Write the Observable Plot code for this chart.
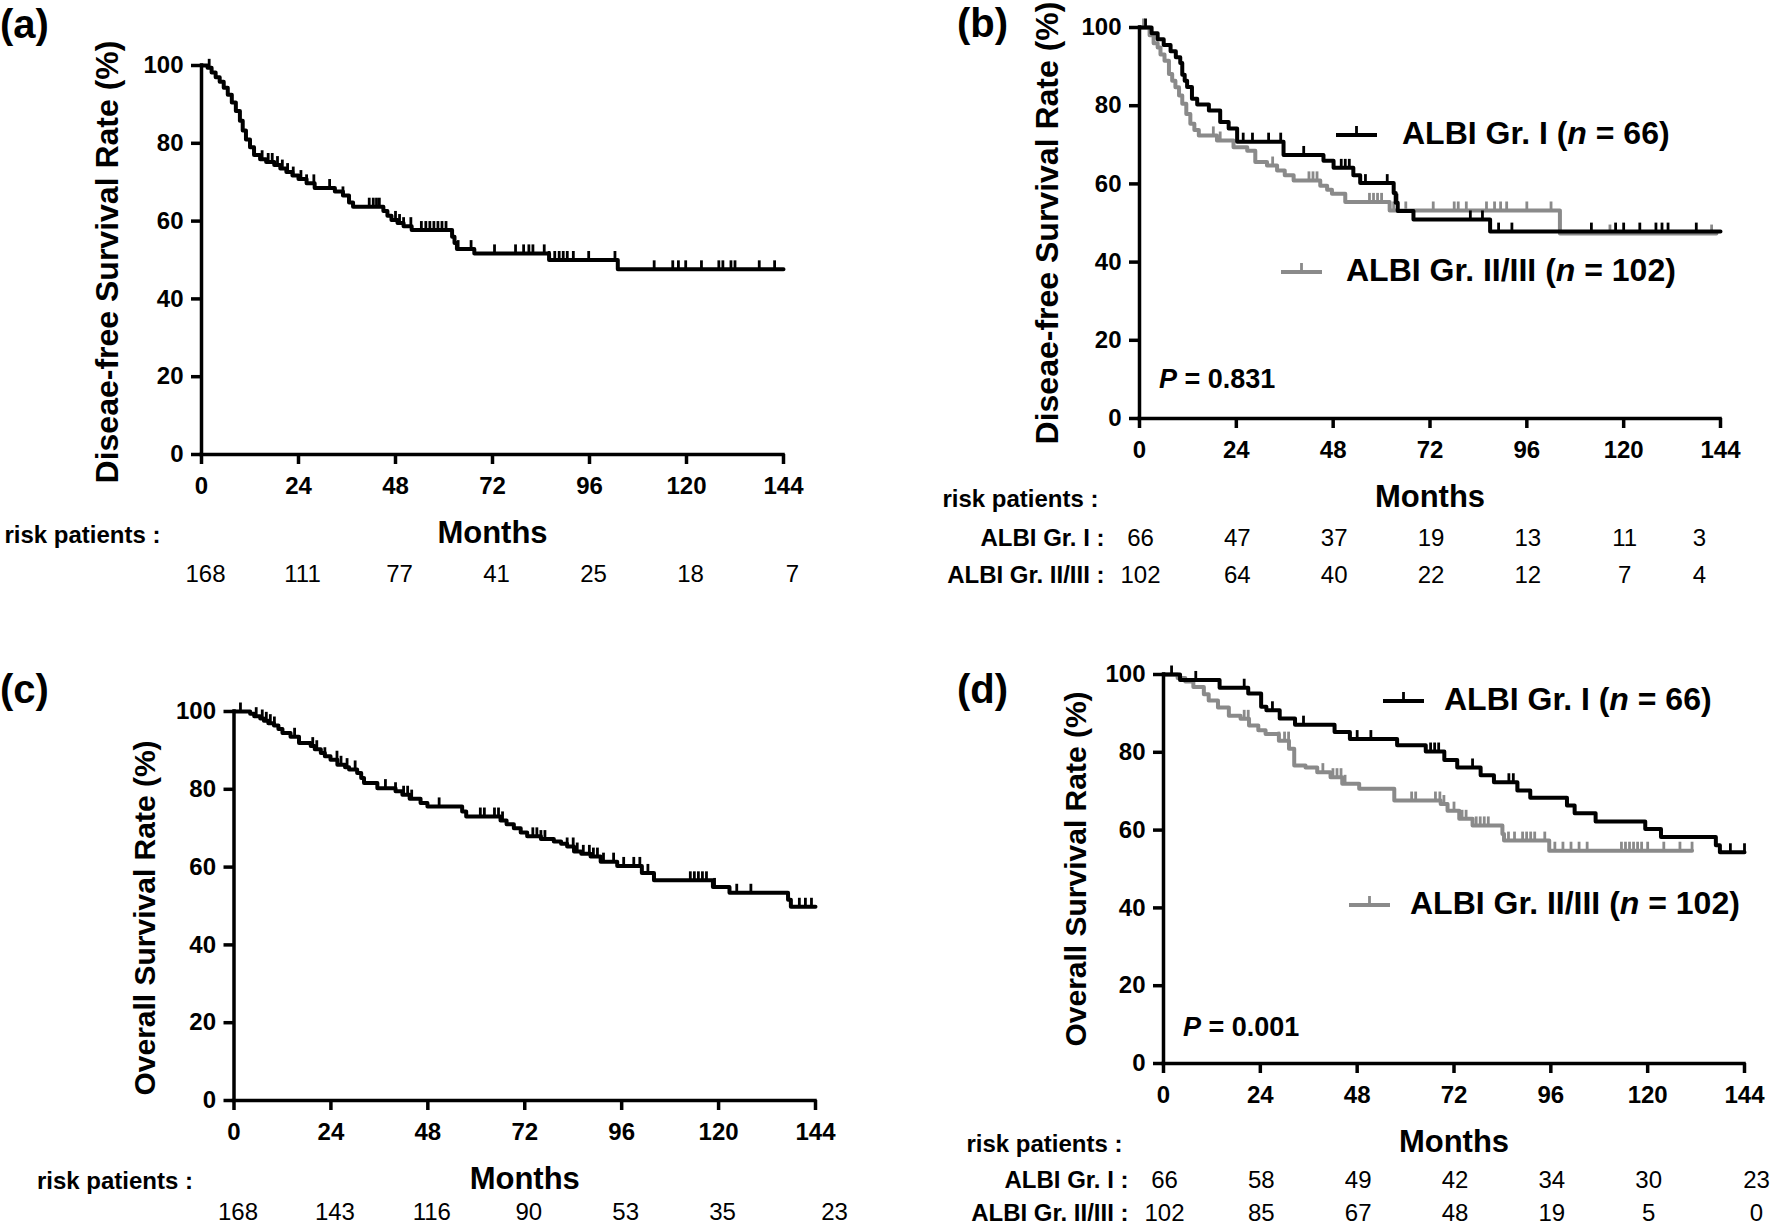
<!DOCTYPE html>
<html><head><meta charset="utf-8">
<script src="https://cdn.jsdelivr.net/npm/d3@7"></script>
<script src="https://cdn.jsdelivr.net/npm/@observablehq/plot@0.6"></script>
<style>
body{margin:0;background:#fff;}
#root{position:relative;width:1770px;height:1227px;overflow:hidden;background:#fff;font-family:"Liberation Sans",Arial,Helvetica,sans-serif;}
#root > svg{position:absolute;left:0;top:0;}
.lbl{position:absolute;font-weight:bold;white-space:nowrap;line-height:1;color:#000;}
.leg{position:absolute;display:flex;align-items:center;font-weight:bold;font-size:32px;white-space:nowrap;line-height:32px;height:32px;}
</style></head><body><div id="root"></div>
<script>
// ---------- shared axis values ----------
const xTicks = [0, 24, 48, 72, 96, 120, 144];
const yTicks = [0, 20, 40, 60, 80, 100];
const riskMonths = [0, 24, 48, 72, 96, 120, 144];

// ---------- (a) disease-free survival, all patients ----------
const aTimes = [0,1.5,2.5,3.5,4.5,5.5,6.5,7.5,8.5,9.5,10.2,11,12,13,14.5,16,18,19.5,21,22.5,24,26,28,33,35,36.5,37.5,45,46,47,48.5,50,52,62,62.6,63.2,67.5,86,103];
const aSurv  = [100,99.4,98.2,97,95.8,94.3,92.5,90.5,88.3,85.8,83.3,81,79,77,75.9,75.2,74.4,73.5,72.6,71.7,70.8,69.7,68.5,67.6,66.6,64.8,63.7,62.6,61.4,60.3,59.5,58.7,57.7,56,54.4,52.8,51.7,50,47.6];
const aEnd = 144;
const aCensor = [1.9,15,16.5,17.5,18.8,20,21.3,22.7,24.6,26,27.8,31.7,35,41.5,42.5,43.3,44,48,49,50,51.8,54.4,55.5,56.5,57.5,58.5,59.5,60.5,63.5,66.7,72.5,77.7,79.7,81,82,84.8,86,87.4,88.5,89.5,90.5,92,95.8,102.3,112,116.6,118,119.8,123.7,128,129,131,132,138,141.8];
const riskA = [168,111,77,41,25,18,7];

// ---------- (b) disease-free survival by ALBI grade ----------
const bITimes = [0,3,4.5,6,7.7,9,10.1,10.6,11.2,11.8,13,14.3,17.2,20,22.1,24.2,35.7,45.6,48.1,53,54.7,63,63.5,64,67.9,86.9];
const bISurv  = [100,98.5,97,95.5,93.9,92.4,90.9,87.9,86.4,84.8,81.8,80.3,78.8,75.8,74.2,70.8,67.4,65.9,64.1,62.2,60.2,57.7,55.2,53.1,50.9,47.8];
const bIEnd = 144;
const bICensor = [1.5,25.7,28,32,35,40.7,50,51,52,56,61.4,63.8,82,85,89,92.3,112,118,120,124,128,129.5,131,138];
const bGTimes = [0,2.5,3.5,4.5,5.2,6.2,7.3,8.1,8.9,9.8,10.6,11.6,12.6,13.6,14.7,19.2,23.3,26.7,28.7,31.6,34.1,36,38.2,44.8,46.5,47.7,51,62,104.2];
const bGSurv  = [100,98,96,94.9,93.1,91.5,88.1,86.4,84.7,82.6,80.5,77.9,75.4,73.8,72.4,71.1,69.4,68.5,65.6,64.7,63.4,62.2,60.9,59.5,58.5,57.5,55.4,53.2,47.3];
const bGEnd = 143;
const bGCensor = [1,18.3,20,33,42,43,44,57,58,59,60,63,66,72.8,78,79,81,86,88,89.5,91,96,102,116.6,141.8];
const riskB1 = [66,47,37,19,13,11,3];
const riskB2 = [102,64,40,22,12,7,4];

// ---------- (c) overall survival, all patients ----------
const cTimes = [0,4,5,6.5,7.4,8.5,9.9,11,12,14,16.1,19,20,21.5,22.5,23.9,25.6,27.5,28.5,30.5,31.5,32.2,35.5,40,41.7,43.5,46.2,47.9,56.5,57.5,66,67.5,69.3,71,72.6,76,79.2,81,82.5,84.2,86,88.3,90.8,94.9,101,104,118.6,122.7,137.2,137.9];
const cSurv  = [100,99.4,98.8,98.2,97.6,97,96.4,95.5,94.5,93.5,91.9,91.1,90.3,89.3,88.5,87.6,86.3,85.7,85.1,84.2,82.9,81.6,80.3,79.5,78.6,77.6,76.5,75.6,74.3,73,72,71,70,68.9,67.9,67.2,66.6,66,65.3,64,63.4,62.7,61.4,60.3,58.5,56.6,54.9,53.4,51.6,49.8];
const cEnd = 144;
const cCensor = [1.6,5.5,7,8,9,10,15,19.5,20.5,22.5,25.5,26.5,28,30,37.5,40,42,43,44,50.8,61,62,64.5,65.5,66.5,74,75,76,77,82.5,84,85,86.5,88,89,90,91.5,94,96.5,99,100.5,102.5,113,114,115,116,117,119,124.5,128,140,141.5,143];
const riskC = [168,143,116,90,53,35,23];

// ---------- (d) overall survival by ALBI grade ----------
const dITimes = [0,4.1,13.9,21,24.2,25.5,28.8,32.6,42.4,46.2,57.9,65,69.6,72.8,78.6,81.9,87.7,90.9,100,101.9,107.1,119.4,123.3,136.9,137.9];
const dISurv  = [100,98.6,96.6,95.1,91.7,90.8,88.7,87.1,85.2,83.4,81.8,80.2,78,76.1,74.1,72.3,70.2,68.3,66.3,64.3,62.2,60.3,58.2,56.1,54.3];
const dIEnd = 144;
const dICensor = [2,8,20,27,34.7,48,51.4,66.2,67.2,68.2,76.6,85.6,86.7,87.8,140.5,144];
const dGTimes = [0,3.5,5.4,7.4,10,11.2,13.5,16.2,19.1,21.2,23.5,25.3,28.6,31.1,32.4,35.2,38.1,41.4,44.3,48.5,57.2,68.7,70.4,73.3,76.6,84,84.4,95.6];
const dGSurv  = [100,99.1,98.2,96.8,94.9,93.3,91.5,89.4,88.6,86.9,85.7,84.7,83,80.9,76.6,76.1,74.9,73.6,71.9,70.6,67.6,66.7,65,62.9,61.2,59,57.3,54.7];
const dGEnd = 131;
const dGCensor = [20,21,28.6,30,31,39.5,42,43,44,45,61.5,62.5,67.4,68.5,69.5,72,74,75,77.5,78.5,79.5,80.5,85.5,87,89,90,91,92,94.5,97,99,101,103,105,113.5,114.5,115.5,116.5,117.5,118.5,120,124,128,131];
const riskD1 = [66,58,49,42,34,30,23];
const riskD2 = [102,85,67,48,19,5,0];

// ---------- helpers ----------
const FONT = '"Liberation Sans", Arial, Helvetica, sans-serif';
const BLACK = "#000";
const GREY = "#8a8a8a";
const W = 1770, H = 1227;

function stepPoints(T, S, end) {
  const pts = T.map((t, i) => ({t, s: S[i]}));
  pts.push({t: end, s: S[S.length - 1]});
  return pts;
}
function survAt(T, S, t) {
  let v = S[0];
  for (let i = 0; i < T.length; i++) if (T[i] <= t) v = S[i];
  return v;
}
const censorSymbol = {
  draw(ctx, size) {
    const h = Math.sqrt(size / Math.PI);
    ctx.moveTo(0, 0);
    ctx.lineTo(0, -h);
  }
};

function kmPanel(cfg) {
  const marks = [];
  for (const s of cfg.series) {
    marks.push(Plot.line(stepPoints(s.T, s.S, s.end), {x: "t", y: "s", curve: "step-after", stroke: s.color, strokeWidth: 4}));
    marks.push(Plot.dot(s.cens.map(t => ({t, s: survAt(s.T, s.S, t)})), {x: "t", y: "s", symbol: censorSymbol, r: 9, stroke: s.color, strokeWidth: 2.8, fill: "none"}));
  }
  marks.push(
    Plot.ruleY([0], {strokeWidth: 3.5, strokeLinecap: "square"}),
    Plot.ruleX([0], {strokeWidth: 3.5, strokeLinecap: "square"}),
    Plot.axisX({ticks: xTicks, tickSize: 10, tickPadding: 12, fontSize: 24, fontWeight: "bold", strokeWidth: 3.5, label: null}),
    Plot.axisY({ticks: yTicks, tickSize: 10, tickPadding: 8, fontSize: 24, fontWeight: "bold", strokeWidth: 3.5, label: null}),
    Plot.text([cfg.title], {frameAnchor: "left", textAnchor: "middle", rotate: -90, dx: cfg.titleDx, dy: cfg.titleDy, text: d => d, fontSize: cfg.titleSize, fontWeight: "bold"}),
    Plot.text(["Months"], {frameAnchor: "bottom", dy: 88, text: d => d, fontSize: 31, fontWeight: "bold"}),
    Plot.text(["risk patients :"], {frameAnchor: "bottom-left", textAnchor: "end", dx: -41, dy: 88, text: d => d, fontSize: 24, fontWeight: "bold"})
  );
  cfg.rows.forEach((row, r) => {
    const dy = cfg.rowDy + r * cfg.rowGap;
    if (row.label) marks.push(Plot.text([row.label], {frameAnchor: "bottom-left", textAnchor: "end", dx: -35, dy, text: d => d, fontSize: 24, fontWeight: "bold"}));
    const idx = d3.range(row.values.length - 1);
    marks.push(Plot.text(idx, {x: i => riskMonths[i], frameAnchor: "bottom", dy, dx: cfg.numDx, text: i => String(row.values[i]), fontSize: 24, fontWeight: "normal"}));
    const last = row.values.length - 1;
    marks.push(Plot.text([last], {x: i => riskMonths[i], frameAnchor: "bottom", dy, dx: cfg.lastDx, text: i => String(row.values[i]), fontSize: 24, fontWeight: "normal"}));
  });
  return Plot.plot({
    width: W, height: H,
    marginLeft: cfg.x0, marginRight: W - cfg.x1, marginTop: cfg.yTop, marginBottom: H - cfg.yBot,
    x: {domain: [0, 144]},
    y: {domain: [0, 100]},
    style: {background: "transparent", overflow: "visible", fontFamily: FONT, fontWeight: "bold", color: "#000", maxWidth: "none"},
    marks
  });
}

const root = document.getElementById("root");

root.append(kmPanel({
  x0: 201, x1: 783, yTop: 65, yBot: 454,
  title: "Diseae-free Survival Rate (%)", titleSize: 32, titleDx: -94, titleDy: 2,
  series: [{T: aTimes, S: aSurv, end: aEnd, cens: aCensor, color: BLACK}],
  rows: [{label: null, values: riskA}], rowDy: 127, rowGap: 37, numDx: 4, lastDx: 9
}));
root.append(kmPanel({
  x0: 1139, x1: 1720, yTop: 27, yBot: 418,
  title: "Diseae-free Survival Rate (%)", titleSize: 32, titleDx: -92, titleDy: 0,
  series: [
    {T: bGTimes, S: bGSurv, end: bGEnd, cens: bGCensor, color: GREY},
    {T: bITimes, S: bISurv, end: bIEnd, cens: bICensor, color: BLACK}
  ],
  rows: [{label: "ALBI Gr. I :", values: riskB1}, {label: "ALBI Gr. II/III :", values: riskB2}], rowDy: 127, rowGap: 37, numDx: 1, lastDx: -21
}));
root.append(kmPanel({
  x0: 233.5, x1: 815, yTop: 711, yBot: 1100,
  title: "Overall Survival Rate (%)", titleSize: 30, titleDx: -89, titleDy: 12,
  series: [{T: cTimes, S: cSurv, end: cEnd, cens: cCensor, color: BLACK}],
  rows: [{label: null, values: riskC}], rowDy: 119, rowGap: 37, numDx: 4, lastDx: 19
}));
root.append(kmPanel({
  x0: 1163, x1: 1744, yTop: 674, yBot: 1063,
  title: "Overall Survival Rate (%)", titleSize: 30, titleDx: -87, titleDy: 0,
  series: [
    {T: dGTimes, S: dGSurv, end: dGEnd, cens: dGCensor, color: GREY},
    {T: dITimes, S: dISurv, end: dIEnd, cens: dICensor, color: BLACK}
  ],
  rows: [{label: "ALBI Gr. I :", values: riskD1}, {label: "ALBI Gr. II/III :", values: riskD2}], rowDy: 124, rowGap: 33, numDx: 1, lastDx: 12
}));

// ---------- panel letters ----------
function label(text, left, cy, size) {
  const d = document.createElement("div");
  d.className = "lbl";
  d.style.left = left + "px";
  d.style.top = (cy - size / 2) + "px";
  d.style.fontSize = size + "px";
  d.innerHTML = text;
  root.append(d);
}
label("(a)", 0, 24, 40);
label("(b)", 957, 23, 40);
label("(c)", 0, 689, 40);
label("(d)", 957, 689, 40);

// ---------- legends ----------
function legend(left, cy, color, html, gap) {
  const d = document.createElement("div");
  d.className = "leg";
  d.style.left = left + "px";
  d.style.top = (cy - 16) + "px";
  d.innerHTML = `<svg width="41" height="20" style="overflow:visible;margin-right:${gap}px"><line x1="0" x2="41" y1="12" y2="12" stroke="${color}" stroke-width="4"/><line x1="20.5" x2="20.5" y1="12" y2="3" stroke="${color}" stroke-width="2.8"/></svg><span>${html}</span>`;
  root.append(d);
}
legend(1336, 133, BLACK, 'ALBI Gr. I (<i>n</i> = 66)', 25);
legend(1281, 270, GREY, 'ALBI Gr. II/III (<i>n</i> = 102)', 24);
legend(1383, 699, BLACK, 'ALBI Gr. I (<i>n</i> = 66)', 20);
legend(1349, 903, GREY, 'ALBI Gr. II/III (<i>n</i> = 102)', 20);

// ---------- p-values ----------
label('<i>P</i> = 0.831', 1159, 379, 27);
label('<i>P</i> = 0.001', 1183, 1027, 27);
</script></body></html>
